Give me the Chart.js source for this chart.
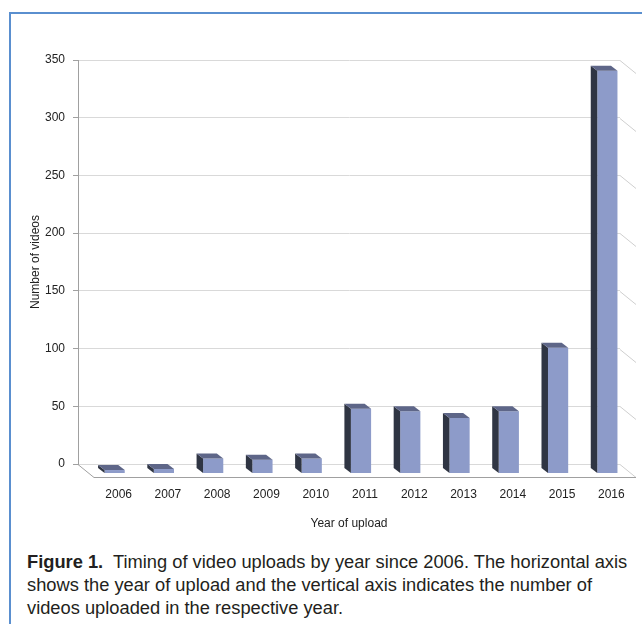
<!DOCTYPE html>
<html>
<head>
<meta charset="utf-8">
<script src="https://cdn.jsdelivr.net/npm/chart.js@4.4.1/dist/chart.umd.min.js"></script>
<style>
  body { margin: 0; background: #fff; }
  #frame { position: absolute; left: 9px; top: 12px; width: 640px; height: 620px;
           border-top: 2px solid #5a8fcf; border-left: 2px solid #5a8fcf; }
  #wrap { position: absolute; left: 0; top: 0; width: 642px; height: 540px; }
  #caption { position: absolute; left: 27px; top: 550px; color: #231f20;
             font-family: 'Liberation Sans Narrow', 'Liberation Sans', Arial, sans-serif;
             font-size: 18.3px; line-height: 23px; white-space: pre; }
</style>
</head>
<body>
<div id="frame"></div>
<div id="wrap"><canvas id="chart" width="642" height="540"></canvas></div>
<div id="caption"><b>Figure 1.</b>  Timing of video uploads by year since 2006. The horizontal axis
shows the year of upload and the vertical axis indicates the number of
videos uploaded in the respective year.</div>
<script>
// data
const years = ["2006", "2007", "2008", "2009", "2010", "2011", "2012", "2013", "2014", "2015", "2016"];
const videoCounts = [3, 4, 13, 12, 13, 56, 54, 48, 54, 109, 349];
const yTicks = [0, 50, 100, 150, 200, 250, 300, 350];

const axisFont = "'Liberation Sans Narrow', 'Liberation Sans', Arial, sans-serif";

// fake 3D offsets
const FRONT = { dx: 12, dy: 9.5 };  // bars stand in front of the back wall
const DEPTH = { dx: 6.5, dy: 5 };   // depth of each bar
const FLOOR = { dx: 16, dy: 13 };   // depth of the floor / side walls

function poly(ctx, pts) {
  ctx.beginPath();
  ctx.moveTo(pts[0][0], pts[0][1]);
  for (let i = 1; i < pts.length; i++) ctx.lineTo(pts[i][0], pts[i][1]);
  ctx.closePath();
  ctx.fill();
}

const box3d = {
  id: "box3d",
  beforeDatasetsDraw(chart) {
    const { ctx, chartArea: a, scales: { y } } = chart;
    ctx.save();
    ctx.lineWidth = 1;
    // gridlines running along the right wall
    ctx.strokeStyle = "#cfcfcf";
    yTicks.forEach((v) => {
      const py = Math.round(y.getPixelForValue(v)) + 0.5;
      ctx.beginPath();
      ctx.moveTo(a.right, py);
      ctx.lineTo(a.right + FLOOR.dx, py + FLOOR.dy);
      ctx.stroke();
    });
    // floor edges
    const base = Math.round(y.getPixelForValue(0)) + 0.5;
    ctx.strokeStyle = "#a0a0a0";
    ctx.beginPath();
    ctx.moveTo(a.left, base);
    ctx.lineTo(a.left + FLOOR.dx, base + FLOOR.dy);
    ctx.lineTo(a.right + FLOOR.dx, base + FLOOR.dy);
    ctx.stroke();
    ctx.restore();
  },
  beforeDatasetDraw(chart) {
    chart.ctx.save();
    chart.ctx.translate(FRONT.dx, FRONT.dy);
  },
  afterDatasetDraw(chart, args) {
    const ctx = chart.ctx;
    args.meta.data.forEach((bar) => {
      const { x, y, base, width } = bar.getProps(["x", "y", "base", "width"], true);
      const l = x - width / 2;
      const r = x + width / 2;
      // left side
      ctx.fillStyle = "#2f3543";
      poly(ctx, [[l, y], [l - DEPTH.dx, y - DEPTH.dy], [l - DEPTH.dx, base - DEPTH.dy], [l, base]]);
      // top
      ctx.fillStyle = "#5e6688";
      poly(ctx, [[l, y], [r, y], [r - DEPTH.dx, y - DEPTH.dy], [l - DEPTH.dx, y - DEPTH.dy]]);
    });
    ctx.restore();
  },
};

new Chart(document.getElementById("chart"), {
  type: "bar",
  data: {
    labels: years,
    datasets: [{
      data: videoCounts,
      backgroundColor: "#8d9bc9",
      borderWidth: 0,
      barPercentage: 0.41,
      categoryPercentage: 1,
      clip: false,
    }],
  },
  options: {
    responsive: false,
    animation: false,
    devicePixelRatio: 1,
    layout: { padding: { top: 60, right: 22, left: 0, bottom: 0 } },
    plugins: { legend: { display: false }, tooltip: { enabled: false } },
    scales: {
      x: {
        grid: { display: false, drawTicks: false },
        border: { display: false },
        ticks: { color: "#222", font: { family: axisFont, size: 12 }, padding: 23, labelOffset: 16 },
        title: { display: true, text: "Year of upload", color: "#222",
                 font: { family: axisFont, size: 12 }, padding: { bottom: 9 } },
        afterFit(s) { s.height = 76; },
      },
      y: {
        min: 0,
        max: 350,
        ticks: { stepSize: 50, color: "#222", font: { family: axisFont, size: 12 }, padding: 8 },
        grid: { color: "#d9d9d9", tickColor: "#a0a0a0", tickLength: 5 },
        border: { color: "#a0a0a0" },
        title: { display: true, text: "Number of videos", color: "#222",
                 font: { family: axisFont, size: 12 }, padding: { top: 28 } },
        afterFit(s) { s.width = 78; },
      },
    },
  },
  plugins: [box3d],
});
</script>
</body>
</html>
